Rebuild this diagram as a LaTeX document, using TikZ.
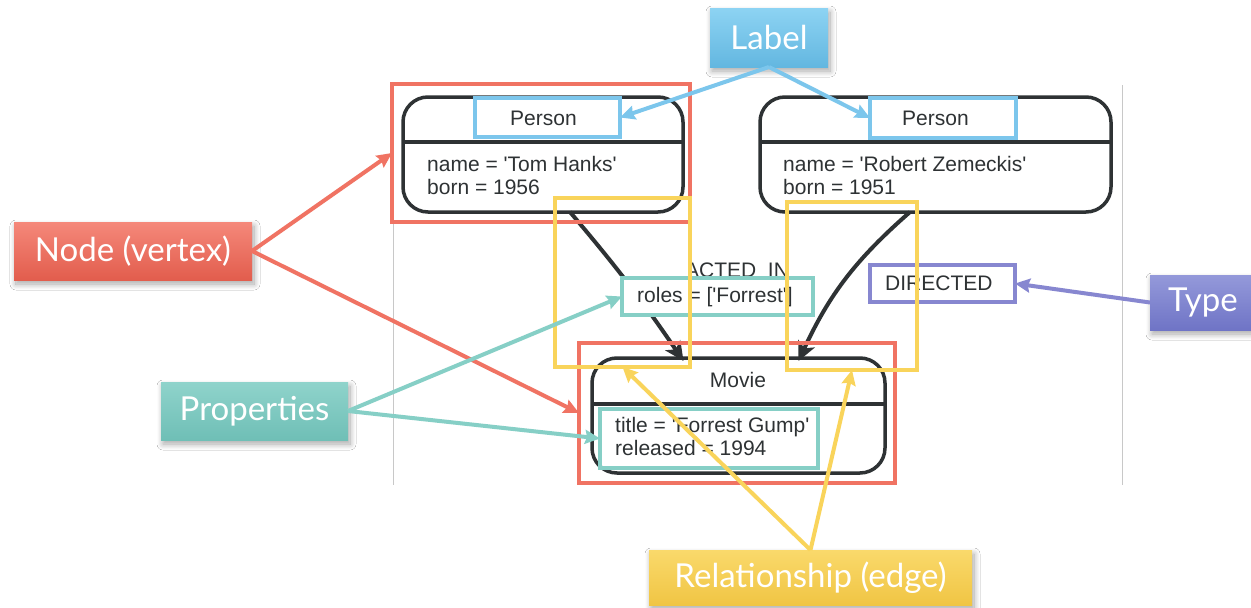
\documentclass[tikz,border=0pt]{standalone}
\usepackage{fontspec}
\setmainfont{Liberation Sans}[Ligatures=TeXOff]
\newfontfamily\callfont{Lato}
\usetikzlibrary{arrows.meta,calc,shadows.blur}

\definecolor{ink}{HTML}{2E3234}
\definecolor{rule}{HTML}{C8C8C8}
\definecolor{nodered}{HTML}{F07363}
\definecolor{labblue}{HTML}{7CC6EC}
\definecolor{relyellow}{HTML}{F9D45B}
\definecolor{propteal}{HTML}{86CFC6}
\definecolor{typepurple}{HTML}{8787D0}
% callout shading colours (top / bottom)
\definecolor{labtop}{HTML}{8DD3F3}
\definecolor{labbot}{HTML}{63B7E0}
\definecolor{redtop}{HTML}{F5887A}
\definecolor{redbot}{HTML}{E25D4D}
\definecolor{tealtop}{HTML}{8FD3CB}
\definecolor{tealbot}{HTML}{6FBFB6}
\definecolor{yeltop}{HTML}{FAD96B}
\definecolor{yelbot}{HTML}{F0C544}
\definecolor{purtop}{HTML}{9499DA}
\definecolor{purbot}{HTML}{6F74C6}

\begin{document}
\begin{tikzpicture}[x=1pt,y=-1pt,
  gnode/.style={draw=ink, line width=3.5pt, rounded corners=25pt, fill=white,
    inner sep=0pt, outer sep=0pt},
  gtext/.style={text=ink, inner sep=0pt, font=\fontsize{21}{24}\selectfont},
  hbox/.style={draw=#1, line width=4pt, inner sep=0pt, outer sep=0pt},
  rel/.style={draw=ink, line width=4pt, -{Stealth[length=19pt,width=18pt,inset=5pt]}},
  carrow/.style={draw=#1, line width=4pt, -{Stealth[length=15pt,width=14pt,inset=2pt]}},
  callout/.style={inner sep=0pt, outer sep=0pt, text=white,
    font=\callfont\fontsize{33}{40}\selectfont,
    blur shadow={shadow blur steps=10, shadow xshift=2pt, shadow yshift=-4pt,
      shadow opacity=35, shadow blur radius=6pt}},
]
\useasboundingbox (0,0) rectangle (1251,608);
\clip (0,0) rectangle (1251,608);
\fill[white] (0,0) rectangle (1251,608);

% frame rules of the graph view
\draw[rule, line width=1pt] (393,85) coordinate (r1a) -- (393,485) coordinate (r1b);
\draw[rule, line width=1pt] (1122,85) coordinate (r2a) -- (1122,485) coordinate (r2b);

% graph nodes
\node[gnode, minimum width=280pt, minimum height=115pt] (p1) at (543,154.5) {};
\node[gnode, minimum width=351pt, minimum height=115pt] (p2) at (935.5,154.5) {};
\node[gnode, minimum width=293pt, minimum height=115pt] (m) at (738.5,415.5) {};
\draw[ink, line width=3.5pt] (p1.west |- 0,142) -- (p1.east |- 0,142);
\draw[ink, line width=3.5pt] (p2.west |- 0,142) -- (p2.east |- 0,142);
\draw[ink, line width=3.5pt] (m.west |- 0,404) -- (m.east |- 0,404);

\node[gtext, anchor=base] (p1lab) at (543.5,125.5) {Person};
\node[gtext, anchor=base west] (p1a) at (427,171) {name = 'Tom Hanks'};
\node[gtext, anchor=base west] (p1b) at (427,194) {born = 1956};
\node[gtext, anchor=base] (p2lab) at (935.5,125.5) {Person};
\node[gtext, anchor=base west] (p2a) at (783,171) {name = 'Robert Zemeckis'};
\node[gtext, anchor=base west] (p2b) at (783,194) {born = 1951};
\node[gtext, anchor=base] (mlab) at (738,387) {Movie};
\node[gtext, anchor=base west] (ma) at (615,432) {title = 'Forrest Gump'};
\node[gtext, anchor=base west] (mb) at (615,455) {released = 1994};

% relationships
\draw[rel] ($(p1.south)+(27,0)$) to[bend left=3] ($(m.north)+(-55,3)$);
\draw[rel] ($(p2.south)+(-25.5,0)$) to[bend right=12] ($(m.north)+(60,3)$);

\begin{scope}
  \clip (688,250) rectangle (787,300);
  \node[gtext, anchor=base] (actedin) at (737,277) {ACTED\_IN};
\end{scope}

% highlight frames
\node[hbox=nodered, minimum width=298pt, minimum height=138pt] (rb1) at (541,153) {};
\node[hbox=nodered, minimum width=316pt, minimum height=140pt] (rb2) at (737,413) {};
\node[hbox=labblue, minimum width=145pt, minimum height=39pt] (lb1) at (547.5,117.5) {};
\node[hbox=labblue, minimum width=146pt, minimum height=40pt] (lb2) at (943,118) {};
\node[hbox=propteal, fill=white, minimum width=191pt, minimum height=37pt] (tb1) at (717.5,296.5) {};
\node[gtext, anchor=base west] (roles) at (637,302) {roles = ['Forrest']};
\node[hbox=propteal, minimum width=218pt, minimum height=59pt] (tb2) at (709,438.5) {};
\node[hbox=typepurple, fill=white, minimum width=145pt, minimum height=37pt] (pb) at (942.5,283.5) {};
\node[gtext, anchor=base west] (directed) at (885,290) {DIRECTED};
\node[hbox=relyellow, minimum width=135pt, minimum height=169pt] (yb1) at (622.5,282.5) {};
\node[hbox=relyellow, minimum width=130pt, minimum height=168pt] (yb2) at (852,286) {};

% callouts
\node[callout, top color=labtop, bottom color=labbot, minimum width=118pt, minimum height=59pt] (lab) at (769,37.5) {Label};
\node[callout, top color=redtop, bottom color=redbot, minimum width=238pt, minimum height=58pt] (nv) at (133,251) {Node (vertex)};
\node[callout, top color=tealtop, bottom color=tealbot, minimum width=187pt, minimum height=58pt] (pr) at (254.5,411) {Properties};
\node[callout, top color=yeltop, bottom color=yelbot, minimum width=323pt, minimum height=55pt] (rl) at (810.5,577.5) {Relationship (edge)};
\node[callout, top color=purtop, bottom color=purbot, minimum width=106pt, minimum height=55pt] (ty) at (1203,302.5) {Type};

% callout pointers
\draw[carrow=labblue] (lab.south) -- (lb1.east);
\draw[carrow=labblue] (lab.south) -- (lb2.west);
\draw[carrow=nodered] (nv.east) -- (rb1.west);
\draw[carrow=nodered] (nv.east) -- (rb2.west);
\draw[carrow=propteal] (pr.east) -- (tb1.west);
\draw[carrow=propteal] (pr.east) -- (tb2.west);
\draw[carrow=relyellow] (rl.north) -- (yb1.south);
\draw[carrow=relyellow] (rl.north) -- (yb2.south);
\draw[carrow=typepurple] (ty.west) -- (pb.east);
\end{tikzpicture}
\end{document}
